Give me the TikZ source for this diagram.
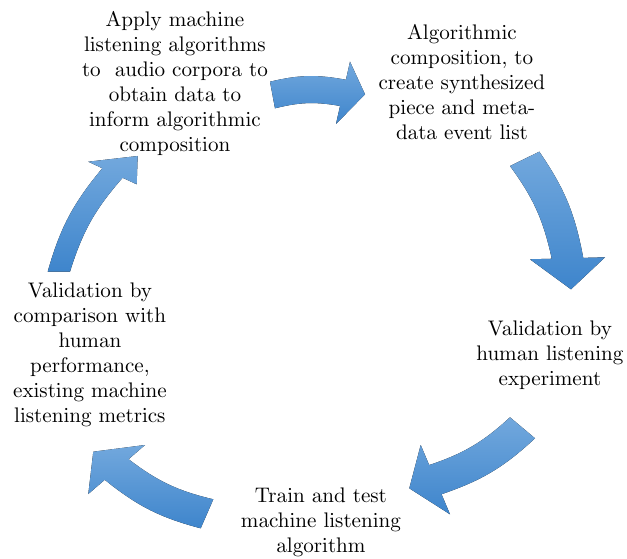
\documentclass[tikz,border=0pt]{standalone}
\usetikzlibrary{calc}

\definecolor{cyclelight}{RGB}{114,168,221}
\definecolor{cycledark}{RGB}{62,133,204}

\font\stagefont=cmr10 at 21.1pt
\tikzset{
  stage/.style={align=center, inner sep=0pt, font={\fontsize{21.1}{25}\selectfont\stagefont}},
  blockarrow/.style={top color=cyclelight, bottom color=cycledark, draw=none}
}

% curved block arrow: tail corners #1 (outside) and #2 (inside),
% head barbs #3 (outside) and #4 (inside), point #5
\newcommand{\cyclearrow}[5]{%
  \fill[blockarrow]
    #1 to[bend left=12] ($#3!0.29!#4$) -- #3 -- #5 -- #4
    -- ($#3!0.71!#4$) to[bend right=12] #2 -- cycle;}

\begin{document}
\begin{tikzpicture}[x=1pt, y=-1pt]
  \fill[white] (0,0) rectangle (627,559);

  % stages of the cycle
  \node[stage] (apply) at (175,84) {Apply machine\\listening algorithms\\to\ \ audio corpora to\\obtain data to\\inform algorithmic\\composition};
  \node[stage] (compose) at (462,82.2) {Algorithmic\\composition, to\\create synthesized\\piece and meta-\\data event list};
  \node[stage] (listen) at (550,354.8) {Validation by\\human listening\\experiment};
  \node[stage] (train) at (321,522.1) {Train and test\\machine listening\\algorithm};
  \node[stage] (compare) at (90,355.1) {Validation by\\comparison with\\human\\performance,\\existing machine\\listening metrics};

  % arrows, clockwise from the top
  \cyclearrow{(270,81.7)}{(275,108.3)}{(350,61.7)}{(336,124)}{(365,94.3)}
  \cyclearrow{(539.3,151.7)}{(510,166)}{(605,257.3)}{(530,259.3)}{(571,289.3)}
  \cyclearrow{(535,438.3)}{(510,417.3)}{(450,514.3)}{(420.7,445)}{(409.3,488.3)}
  \cyclearrow{(200.7,528.3)}{(213.3,499.3)}{(88.3,494)}{(145,445)}{(93.3,451.7)}
  \cyclearrow{(47.7,271.7)}{(70,271.7)}{(88.3,161.7)}{(136.7,184.3)}{(137.7,156)}
\end{tikzpicture}
\end{document}
